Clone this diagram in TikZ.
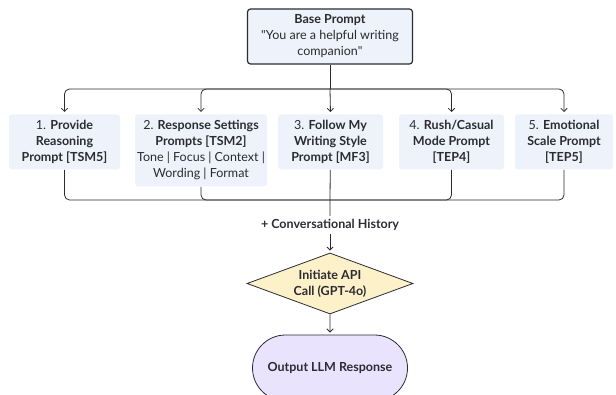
\documentclass[tikz,border=0pt]{standalone}
\usepackage{fontspec}
\setmainfont{Lato}
\usepackage{tikz}
\usetikzlibrary{arrows}
\usetikzlibrary{shapes.geometric}
\usetikzlibrary{shapes.misc}
\usetikzlibrary{positioning}
\definecolor{promptblue}{HTML}{EEF2FB}
\definecolor{apiyellow}{HTML}{FDF1C9}
\definecolor{outviolet}{HTML}{E9E3FD}
\definecolor{inkgray}{HTML}{2B2B33}

\begin{document}
\begin{tikzpicture}[x=1pt,y=-1pt,->,>=angle 90,shorten >=2pt,line width=0.8pt,draw=inkgray,
    font=\fontsize{12.5}{16}\selectfont,text=inkgray,
    base node/.style={draw,rounded corners=3pt,fill=promptblue,line width=1.2pt,minimum width=165,minimum height=55,align=center,inner sep=0pt},
    prompt node/.style={fill=promptblue,rounded corners=3pt,anchor=north,minimum height=55,align=center,inner sep=0pt},
    api node/.style={diamond,draw,fill=apiyellow,aspect=2.7,minimum width=166,minimum height=61,align=center,inner sep=0pt,font=\bfseries\fontsize{12.5}{16}\selectfont},
    out node/.style={rounded rectangle,draw,fill=outviolet,minimum width=155,minimum height=66,inner sep=0pt,font=\bfseries\fontsize{12.5}{16}\selectfont}]
  \useasboundingbox (0,0) rectangle (616,395);
  \begin{scope}
    % top
    \node[base node] (base) at (330,36.5) {\textbf{Base Prompt}\\\textquotedbl You are a helpful writing\\companion\textquotedbl};
    % the five prompts
    \node[prompt node,minimum width=111] (p1) at (64.5,114) {1. \textbf{Provide}\\\textbf{Reasoning}\\\textbf{Prompt [TSM5]}};
    \node[prompt node,minimum width=132,minimum height=72] (p2) at (201,114) {2. \textbf{Response Settings}\\\textbf{Prompts [TSM2]}\\Tone | Focus | Context |\\Wording | Format};
    \node[prompt node,minimum width=105] (p3) at (330.5,114) {3. \textbf{Follow My}\\\textbf{Writing Style}\\\textbf{Prompt [MF3]}};
    \node[prompt node,minimum width=105] (p4) at (451.5,114) {4. \textbf{Rush/Casual}\\\textbf{Mode Prompt}\\\textbf{[TEP4]}};
    \node[prompt node,minimum width=98] (p5) at (564,114) {5. \textbf{Emotional}\\\textbf{Scale Prompt}\\\textbf{[TEP5]}};
    %\node[prompt node,minimum width=98] (p6) at (660,114) {};
    \node[inner sep=3pt] (hist) at (330,225) {\textbf{+ Conversational History}};
    \node[api node] (api) at (330,283.5) {Initiate API\\Call (GPT-4o)};
    \node[out node] (out) at (330,368) {Output LLM Response};
    \coordinate (split) at (330,89);
    \coordinate (join) at (330,200);
    % fan out
    \draw[-,shorten >=0pt] (base) -- (split);
    \foreach \n in {p1,p2,p4,p5}
      \draw[rounded corners=5pt] (split) -| (\n.north);
    \draw (split) -- (p3.north);
    % gather
    \foreach \n in {p1,p2,p4,p5}
      \draw[-,shorten >=0pt,rounded corners=5pt] (\n.south) |- (join);
    \draw[-,shorten >=0pt] (p3) -- (join) -- (hist);
    \draw (hist) -- (api);
    \draw (api) -- (out);
  \end{scope}
\end{tikzpicture}
\end{document}
